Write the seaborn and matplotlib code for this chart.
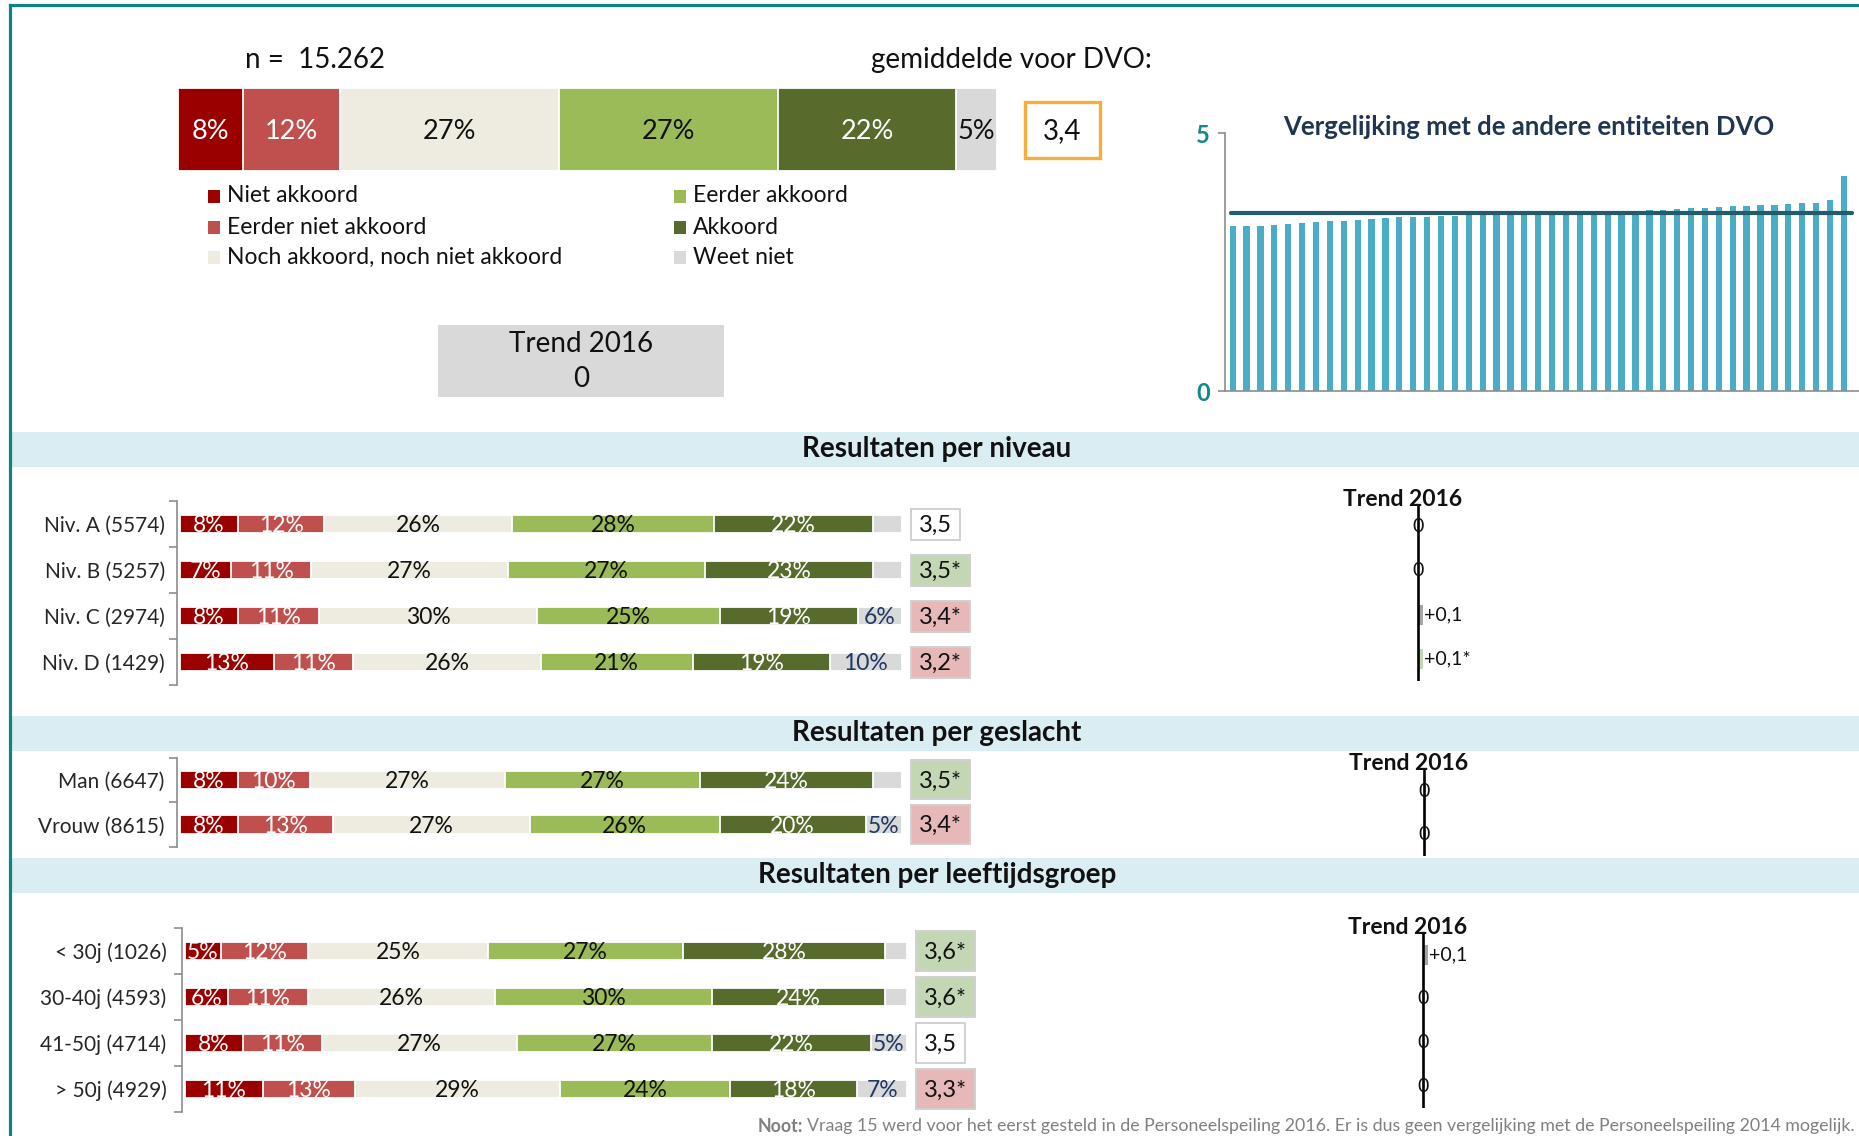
import numpy as np
import pandas as pd
import matplotlib
matplotlib.use("Agg")
import matplotlib.pyplot as plt
from matplotlib.patches import Rectangle
import seaborn as sns

# ---------------- data ----------------
segments = ["Niet akkoord", "Eerder niet akkoord", "Noch akkoord, noch niet akkoord",
            "Eerder akkoord", "Akkoord", "Weet niet"]

total_pct = [8, 12, 27, 27, 22, 5]
total_n = "15.262"
total_mean = "3,4"
total_trend = "0"

niveau_labels = ["Niv. A (5574)", "Niv. B (5257)", "Niv. C (2974)", "Niv. D (1429)"]
niveau_pct = [[8, 12, 26, 28, 22, 4],
              [7, 11, 27, 27, 23, 4],
              [8, 11, 30, 25, 19, 6],
              [13, 11, 26, 21, 19, 10]]
niveau_scores = ["3,5", "3,5*", "3,4*", "3,2*"]
niveau_score_sig = [0, 1, -1, -1]
niveau_trend = [0.0, 0.0, 0.1, 0.1]
niveau_trend_labels = ["0", "0", "+0,1", "+0,1*"]

gender_labels = ["Man (6647)", "Vrouw (8615)"]
gender_pct = [[8, 10, 27, 27, 24, 4],
              [8, 13, 27, 26, 20, 5]]
gender_scores = ["3,5*", "3,4*"]
gender_score_sig = [1, -1]
gender_trend = [0.0, 0.0]
gender_trend_labels = ["0", "0"]

age_labels = ["< 30j (1026)", "30-40j (4593)", "41-50j (4714)", "> 50j (4929)"]
age_pct = [[5, 12, 25, 27, 28, 3],
           [6, 11, 26, 30, 24, 3],
           [8, 11, 27, 27, 22, 5],
           [11, 13, 29, 24, 18, 7]]
age_scores = ["3,6*", "3,6*", "3,5", "3,3*"]
age_score_sig = [1, 1, 0, -1]
age_trend = [0.1, 0.0, 0.0, 0.0]
age_trend_labels = ["+0,1", "0", "0", "0"]

comparison_values = [3.19, 3.20, 3.20, 3.22, 3.24, 3.26, 3.27, 3.29, 3.29, 3.31,
                     3.34, 3.36, 3.37, 3.37, 3.37, 3.39, 3.39,
                     3.41, 3.42, 3.42, 3.43, 3.44, 3.44, 3.45, 3.45, 3.46, 3.46, 3.47, 3.48, 3.49,
                     3.51, 3.51, 3.53, 3.54, 3.55, 3.57, 3.58, 3.59, 3.60, 3.61, 3.63, 3.64, 3.65,
                     3.71, 4.17]
comparison_mean = 3.45
comparison_ticks = [0, 5]

note_text = ("Vraag 15 werd voor het eerst gesteld in de Personeelspeiling 2016. "
             "Er is dus geen vergelijking met de Personeelspeiling 2014 mogelijk.")

# ---------------- style ----------------
segment_colors = ["#9a0000", "#c0504d", "#eeece1", "#9bbb59", "#566b2c", "#d9d9d9"]
row_text_colors = ["white", "white", "#111111", "#111111", "white", "#1f3864"]
main_text_colors = ["white", "white", "#111111", "#111111", "white", "#111111"]
score_fill = {0: "white", 1: "#c4d7b5", -1: "#e6b8b7"}
teal = "#0e847f"
band_col = "#daedf3"
axis_gray = "#8c8c8c"

sns.set_theme(style="white")
plt.rcParams["font.family"] = ["Lato", "DejaVu Sans"]
plt.rcParams["text.color"] = "#111111"

W, H = 1859, 1136
fig = plt.figure(figsize=(W / 100, H / 100), dpi=100)
fig.patch.set_facecolor("white")
renderer = fig.canvas.get_renderer()


def px_axes(x0, y0, x1, y1, z=2):
    ax = fig.add_axes([x0 / W, 1 - y1 / H, (x1 - x0) / W, (y1 - y0) / H])
    ax.set_facecolor("none")
    ax.set_zorder(z)
    return ax


ov = fig.add_axes([0, 0, 1, 1])
ov.set_xlim(0, W)
ov.set_ylim(H, 0)
ov.axis("off")
ov.set_zorder(10)


def to_ov(ax, x, y):
    return ov.transData.inverted().transform(ax.transData.transform((x, y)))


def stacked(ax, labels, rows, bar_h, fs, text_colors, min_last=5, dy=0.0):
    recs = []
    for lab, vals in zip(labels, rows):
        tot = float(sum(vals))
        c = 0
        for k, v in enumerate(vals):
            recs.append(dict(label=lab, seg=k, value=v, start=c / tot * 100, end=(c + v) / tot * 100))
            c += v
    df = pd.DataFrame(recs)
    for k in reversed(range(len(segments))):
        sub = df[df.seg == k]
        sns.barplot(data=sub, x="end", y="label", order=labels, orient="y",
                    color=segment_colors[k], saturation=1, width=bar_h,
                    edgecolor="white", linewidth=1.3, errorbar=None, ax=ax)
    for r in df.itertuples():
        if r.seg == len(segments) - 1 and r.value < min_last:
            continue
        i = labels.index(r.label)
        ax.text((r.start + r.end) / 2, i + dy, f"{r.value}%", ha="center", va="center",
                fontsize=fs, color=text_colors[r.seg])


# ---------------- frame ----------------
ov.plot([10, W], [5, 5], color=teal, lw=2.3, solid_capstyle="projecting")
ov.plot([10, 10], [5, H], color=teal, lw=2.3, solid_capstyle="projecting")

# ---------------- top total bar ----------------
axm = px_axes(178, 88, 997, 171)
stacked(axm, ["Totaal"], [total_pct], 1.0, 19.5, main_text_colors, min_last=0, dy=0.02)
axm.set_xlim(0, 100)
axm.set_ylim(0.5, -0.5)
axm.axis("off")

ov.text(245, 60, f"n =  {total_n}", fontsize=20, va="center", ha="left")
ov.text(871, 60, "gemiddelde voor DVO:", fontsize=20, va="center", ha="left")
ov.add_patch(Rectangle((1025, 102), 75, 56, fill=False, ec="#f5ad3c", lw=2.4))
ov.text(1062.5, 131, total_mean, fontsize=20, ha="center", va="center")

leg_pos = [(214, 196), (214, 227), (214, 257), (680, 196), (680, 227), (680, 257)]
for seg, col, (lx, ly) in zip(segments, segment_colors, leg_pos):
    ov.add_patch(Rectangle((lx - 6, ly - 6.5), 12, 13, facecolor=col, lw=0))
    ov.text(lx + 13, ly, seg, fontsize=16.5, va="center", ha="left")

ov.add_patch(Rectangle((438, 325), 286, 72, facecolor="#d9d9d9", lw=0))
ov.text(581, 344, "Trend 2016", fontsize=20, ha="center", va="center")
ov.text(581, 379, total_trend, fontsize=20, ha="center", va="center")

# ---------------- comparison chart ----------------
axc = px_axes(1225, 133, 1859, 391)
nc = len(comparison_values)
sns.barplot(x=np.arange(nc), y=comparison_values, orient="x", color="#4bacc6",
            saturation=1, width=0.45, linewidth=0, ax=axc)
axc.hlines(comparison_mean, -0.12, nc - 0.4, color="#245b6b", lw=3.0, capstyle="round")
axc.set_xlim(-0.55, nc + 0.09)
axc.set_ylim(0, 5)
for s in ["top", "right"]:
    axc.spines[s].set_visible(False)
for s in ["left", "bottom"]:
    axc.spines[s].set_color(axis_gray)
    axc.spines[s].set_linewidth(1.2)
axc.set_xticks([])
axc.set_yticks(comparison_ticks)
axc.set_yticklabels([str(t) for t in comparison_ticks], color="#128a84",
                    fontweight="bold", fontsize=17)
axc.tick_params(axis="y", left=True, length=5, width=1.2, color=axis_gray, pad=6)
axc.set_xlabel("")
axc.set_ylabel("")
ov.text(1529, 127, "Vergelijking met de andere entiteiten DVO", ha="center", va="center",
        fontsize=18.5, fontweight="bold", color="#1f3552")

# ---------------- section bands ----------------
bands = [(432, 467, "Resultaten per niveau"),
         (716, 751, "Resultaten per geslacht"),
         (858, 893, "Resultaten per leeftijdsgroep")]
for y0, y1, title in bands:
    ov.add_patch(Rectangle((11.5, y0), W - 11.5, y1 - y0, facecolor=band_col, lw=0, zorder=0))
    ov.text(937, (y0 + y1) / 2, title, ha="center", va="center", fontsize=20, fontweight="bold")

# ---------------- section rows ----------------
PX_PER = 7.22


def section(labels, rows, scores, sigs, x0, y0, y1, pad, box_h):
    n = len(labels)
    ax = px_axes(x0, y0, x0 + 728, y1)
    stacked(ax, labels, rows, 0.41, 16.5, row_text_colors, dy=0.04)
    ax.set_xlim(-3 / PX_PER, 725 / PX_PER)
    ax.set_ylim(n - 0.5, -0.5)
    for s in ["top", "right", "bottom"]:
        ax.spines[s].set_visible(False)
    ax.spines["left"].set_color(axis_gray)
    ax.spines["left"].set_linewidth(1.2)
    ax.set_xticks([])
    ax.set_xlabel("")
    ax.set_ylabel("")
    ax.set_yticks(range(n))
    ax.set_yticklabels(labels, fontsize=15)
    ax.set_yticks(np.arange(n + 1) - 0.5, minor=True)
    ax.tick_params(axis="y", which="major", length=0, pad=pad)
    ax.tick_params(axis="y", which="minor", left=True, length=6, width=1.2, color=axis_gray)
    for i, (s, sg) in enumerate(zip(scores, sigs)):
        bx, yc = to_ov(ax, 101.25, i)
        t = ov.text(bx + 8, yc + 1, s, fontsize=17, ha="left", va="center", zorder=12)
        w = t.get_window_extent(renderer).width
        ov.add_patch(Rectangle((bx, yc - box_h / 2), w + 16, box_h, facecolor=score_fill[sg],
                               edgecolor="#d0d0d0", lw=1.4, zorder=11))
    return ax


def trend(labels, vals, tlabels, line_x, y0, y1):
    n = len(labels)
    ax = px_axes(line_x - 30, y0, line_x + 30, y1)
    cols = ["#c4d7b5" if "*" in t else "#a6a6a6" for t in tlabels]
    df = pd.DataFrame(dict(label=labels, val=vals))
    sns.barplot(data=df, x="val", y="label", hue="label", palette=cols, order=labels,
                hue_order=labels, orient="y", saturation=1, width=0.46, legend=False,
                linewidth=0, ax=ax)
    ax.axvline(0, color="black", lw=1.9)
    ax.set_xlim(-0.6, 0.6)
    ax.set_ylim(n - 0.5, -0.5)
    ax.axis("off")
    for i, (v, t) in enumerate(zip(vals, tlabels)):
        if v == 0:
            ax.text(0, i, t, ha="center", va="center", fontsize=14)
        else:
            ax.text(v + 0.02, i, t, ha="left", va="center", fontsize=14)
    ov.text(line_x - 15, y0 - 6, "Trend 2016", ha="center", va="center",
            fontsize=16.5, fontweight="bold", zorder=9)
    return ax


section(niveau_labels, niveau_pct, niveau_scores, niveau_score_sig, 177, 501, 685, 8.5, 31)
section(gender_labels, gender_pct, gender_scores, gender_score_sig, 177, 757.7, 846.7, 9, 39)
section(age_labels, age_pct, age_scores, age_score_sig, 182, 928, 1112, 11, 40)

trend(niveau_labels, niveau_trend, niveau_trend_labels, 1418, 505, 681)
trend(gender_labels, gender_trend, gender_trend_labels, 1424, 770, 856)
trend(age_labels, age_trend, age_trend_labels, 1423, 933, 1108)

# ---------------- footnote ----------------
tn = ov.text(1855, 1126, note_text, ha="right", va="center", fontsize=12.8, color="#808080")
bb = tn.get_window_extent(renderer)
ov.text(bb.x0 - 4, 1126, "Noot:", ha="right", va="center", fontsize=12.8,
        fontweight="bold", color="#808080")

fig.savefig("out.png", dpi=100)
